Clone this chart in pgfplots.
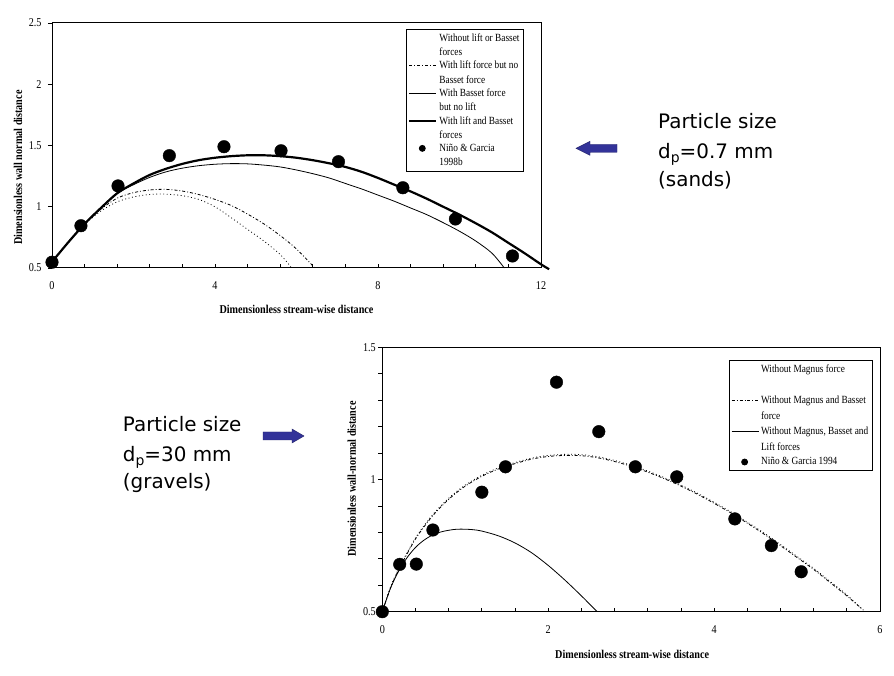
\documentclass[border=0pt]{standalone}
\usepackage{fontspec}
\setmainfont{Liberation Serif}[FakeStretch=0.85]
\newfontfamily\annfont{DejaVu Sans}
\usepackage{pgfplots}
\pgfplotsset{compat=1.18}
\definecolor{arrowblue}{RGB}{51,51,153}

\pgfplotsset{
  excel/.style={
    scale only axis, clip=false,
    axis line style={line width=1bp},
    tick align=inside,
    xtick pos=bottom, ytick pos=left,
    major tick length=4bp, minor tick length=4bp,
    xtick style={black, line width=0.7bp},
    ytick style={black, line width=0.7bp, xshift=-4bp},
    ticklabel style={font=\fontsize{12}{14}\selectfont},
    xticklabel style={yshift=-10bp},
    /pgf/number format/assume math mode=true,
    label style={font=\bfseries\fontsize{12}{14}\selectfont},
    legend style={draw=black, line width=0.8bp,
      cells={align=left, anchor=west}, inner sep=2bp},
  },
  dotline/.style={black, line width=0.8bp, dash pattern=on 0.9bp off 2.6bp},
  dashdotline/.style={black, line width=0.8bp, dash pattern=on 3bp off 2bp on 0.9bp off 2bp},
}

\begin{document}
\begin{tikzpicture}
\fill[white] (0bp,0bp) rectangle (894bp,676bp);
\useasboundingbox (0bp,0bp) rectangle (894bp,676bp);

% top chart: d_p = 0.7 mm
\begin{axis}[excel,
  at={(52bp,408bp)}, anchor=south west, width=489bp, height=245bp,
  xmin=0, xmax=12, ymin=0.5, ymax=2.5,
  xtick={0,4,8,12}, minor x tick num=4,
  ytick={0.5,1,1.5,2,2.5},
  yticklabel style={xshift=-7bp},
  xlabel={Dimensionless stream-wise distance},
  ylabel={Dimensionless wall normal distance},
  xlabel style={at={(axis description cs:0.5,-0.167)}, anchor=center},
  ylabel style={at={(axis description cs:-0.0695,0.41)}, anchor=center},
  legend style={at={(0.965,0.9755)}, anchor=north east,
    font=\fontsize{11}{14.5}\selectfont, row sep=0bp},
  legend image code/.code={\draw[#1] (0bp,7.25bp) -- (27bp,7.25bp);},
]
\addplot[dotline, smooth, legend image code/.code={}] coordinates {
  (0,0.55) (0.4,0.71) (0.8,0.855) (1.2,0.965) (1.6,1.04) (2.0,1.08) (2.4,1.10)
  (2.8,1.103) (3.2,1.09) (3.6,1.06) (4.0,1.0) (4.4,0.91) (4.8,0.815) (5.2,0.72)
  (5.6,0.61) (5.86,0.51)};
\addlegendentry{Without lift or Basset\\forces}
\addplot[dashdotline, smooth] coordinates {
  (0,0.55) (0.4,0.71) (0.8,0.86) (1.2,0.98) (1.6,1.07) (2.0,1.115) (2.4,1.137)
  (2.8,1.142) (3.2,1.128) (3.6,1.10) (4.0,1.06) (4.4,1.01) (4.8,0.94) (5.2,0.86)
  (5.6,0.765) (6.0,0.655) (6.45,0.50)};
\addlegendentry{With lift force but no\\Basset force}
\addplot[black, line width=0.8bp, smooth] coordinates {
  (0,0.55) (0.4,0.71) (0.8,0.86) (1.2,0.99) (1.6,1.11) (2.0,1.18) (2.4,1.24)
  (2.8,1.285) (3.2,1.315) (3.6,1.335) (4.0,1.347) (4.4,1.352) (4.8,1.35)
  (5.2,1.34) (5.6,1.325) (6.0,1.30) (6.4,1.27) (6.8,1.235) (7.2,1.19)
  (7.6,1.145) (8.0,1.095) (8.4,1.045) (8.8,0.99) (9.2,0.935) (9.6,0.87)
  (10.0,0.80) (10.4,0.72) (10.8,0.62) (11.1,0.5)};
\addlegendentry{With Basset force\\but no lift}
\addplot[black, line width=2.2bp, smooth] coordinates {
  (0,0.55) (0.4,0.71) (0.8,0.86) (1.2,0.99) (1.6,1.11) (2.0,1.19) (2.4,1.26)
  (2.8,1.31) (3.2,1.35) (3.6,1.38) (4.0,1.40) (4.4,1.413) (4.8,1.42) (5.2,1.42)
  (5.6,1.413) (6.0,1.40) (6.4,1.38) (6.8,1.355) (7.2,1.325) (7.6,1.285)
  (8.0,1.235) (8.4,1.18) (8.8,1.125) (9.2,1.065) (9.6,1.0) (10.0,0.935)
  (10.4,0.865) (10.8,0.79) (11.2,0.705) (11.6,0.62) (12.0,0.53) (12.2,0.49)};
\addlegendentry{With lift and Basset\\forces}
\addplot[only marks, mark=*, mark size=6.3bp, black,
  legend image code/.code={\fill (13bp,7.25bp) circle (3bp);}] coordinates {
  (0,0.547) (0.71,0.845) (1.62,1.17) (2.88,1.417) (4.22,1.49) (5.62,1.457)
  (7.03,1.368) (8.61,1.155) (9.90,0.90) (11.30,0.598)};
\addlegendentry{Niño \& Garcia\\1998b}
\end{axis}

% bottom chart: d_p = 30 mm
\begin{axis}[excel,
  at={(382.3bp,64.3bp)}, anchor=south west, width=497.7bp, height=264.4bp,
  xmin=0, xmax=6, ymin=0.5, ymax=1.5,
  xtick={0,2,4,6}, minor x tick num=4,
  ytick={0.5,1,1.5}, minor y tick num=4,
  yticklabel style={xshift=-3bp},
  xlabel={Dimensionless stream-wise distance},
  ylabel={Dimensionless wall-normal distance},
  xlabel style={at={(axis description cs:0.502,-0.16)}, anchor=center},
  ylabel style={at={(axis description cs:-0.0615,0.502)}, anchor=center},
  legend style={at={(0.9853,0.952)}, anchor=north east,
    font=\fontsize{11}{16}\selectfont, row sep=2bp},
  legend image code/.code={\draw[#1] (0bp,8bp) -- (27bp,8bp);},
]
\addplot[dotline, smooth, legend image code/.code={}] coordinates {
  (0,0.5) (0.1,0.594) (0.2,0.664) (0.4,0.779) (0.6,0.864) (0.8,0.929)
  (1.0,0.979) (1.2,1.016) (1.4,1.044) (1.6,1.064) (1.8,1.081) (2.0,1.091)
  (2.2,1.095) (2.4,1.094) (2.6,1.086) (2.8,1.072) (3.0,1.054) (3.2,1.032)
  (3.4,1.007) (3.6,0.979) (3.8,0.948) (4.0,0.914) (4.2,0.878) (4.4,0.839)
  (4.6,0.798) (4.8,0.754) (5.0,0.709) (5.2,0.664) (5.4,0.614) (5.6,0.564)
  (5.78,0.51)};
\addlegendentry{Without Magnus force\\\mbox{}}
\addplot[dashdotline, smooth] coordinates {
  (0,0.5) (0.1,0.59) (0.2,0.66) (0.4,0.775) (0.6,0.86) (0.8,0.925)
  (1.0,0.975) (1.2,1.012) (1.4,1.04) (1.6,1.06) (1.8,1.077) (2.0,1.087)
  (2.2,1.091) (2.4,1.09) (2.6,1.082) (2.8,1.068) (3.0,1.05) (3.2,1.028)
  (3.4,1.003) (3.6,0.975) (3.8,0.944) (4.0,0.91) (4.2,0.874) (4.4,0.835)
  (4.6,0.794) (4.8,0.75) (5.0,0.705) (5.2,0.66) (5.4,0.61) (5.6,0.56)
  (5.8,0.506)};
\addlegendentry{Without Magnus and Basset\\force}
\addplot[black, line width=0.8bp, smooth] coordinates {
  (0,0.5) (0.1,0.59) (0.2,0.655) (0.3,0.705) (0.4,0.743) (0.5,0.77)
  (0.6,0.789) (0.7,0.801) (0.8,0.808) (0.9,0.812) (1.0,0.812) (1.1,0.81)
  (1.2,0.805) (1.4,0.787) (1.6,0.76) (1.8,0.723) (2.0,0.675) (2.2,0.62)
  (2.4,0.56) (2.59,0.5)};
\addlegendentry{Without Magnus, Basset and\\Lift forces}
\addplot[only marks, mark=*, mark size=6.3bp, black,
  legend image code/.code={\fill (13bp,0bp) circle (3bp);}] coordinates {
  (0,0.5) (0.21,0.679) (0.41,0.68) (0.61,0.809) (1.20,0.952) (1.485,1.048)
  (2.10,1.368) (2.61,1.181) (3.05,1.048) (3.55,1.01) (4.25,0.851) (4.69,0.75)
  (5.05,0.651)};
\addlegendentry{Niño \& Garcia 1994}
\end{axis}

% annotations
\begin{scope}[every node/.style={anchor=base west, inner sep=0pt,
    font=\annfont\fontsize{20}{24}\selectfont}]
\node at (658bp,547bp) {Particle size};
\node at (658bp,517bp) {d\raisebox{-4bp}{\fontsize{14}{14}\selectfont p}=0.7 mm};
\node at (658bp,489bp) {(sands)};
\node at (122.7bp,244bp) {Particle size};
\node at (122.7bp,214.3bp) {d\raisebox{-4bp}{\fontsize{14}{14}\selectfont p}=30 mm};
\node at (122.7bp,187bp) {(gravels)};
\end{scope}
\begin{scope}[x=1bp, y=1bp]
\filldraw[fill=arrowblue, draw=arrowblue!70!black, line width=0.4bp]
  (576,527.7) -- (590,534.7) -- (590,531.7) -- (617,531.7) -- (617,523.7)
  -- (590,523.7) -- (590,520.7) -- cycle;
\filldraw[fill=arrowblue, draw=arrowblue!70!black, line width=0.4bp]
  (304,240) -- (292,247) -- (292,244) -- (263,244) -- (263,236)
  -- (292,236) -- (292,233) -- cycle;
\end{scope}
\end{tikzpicture}
\end{document}
